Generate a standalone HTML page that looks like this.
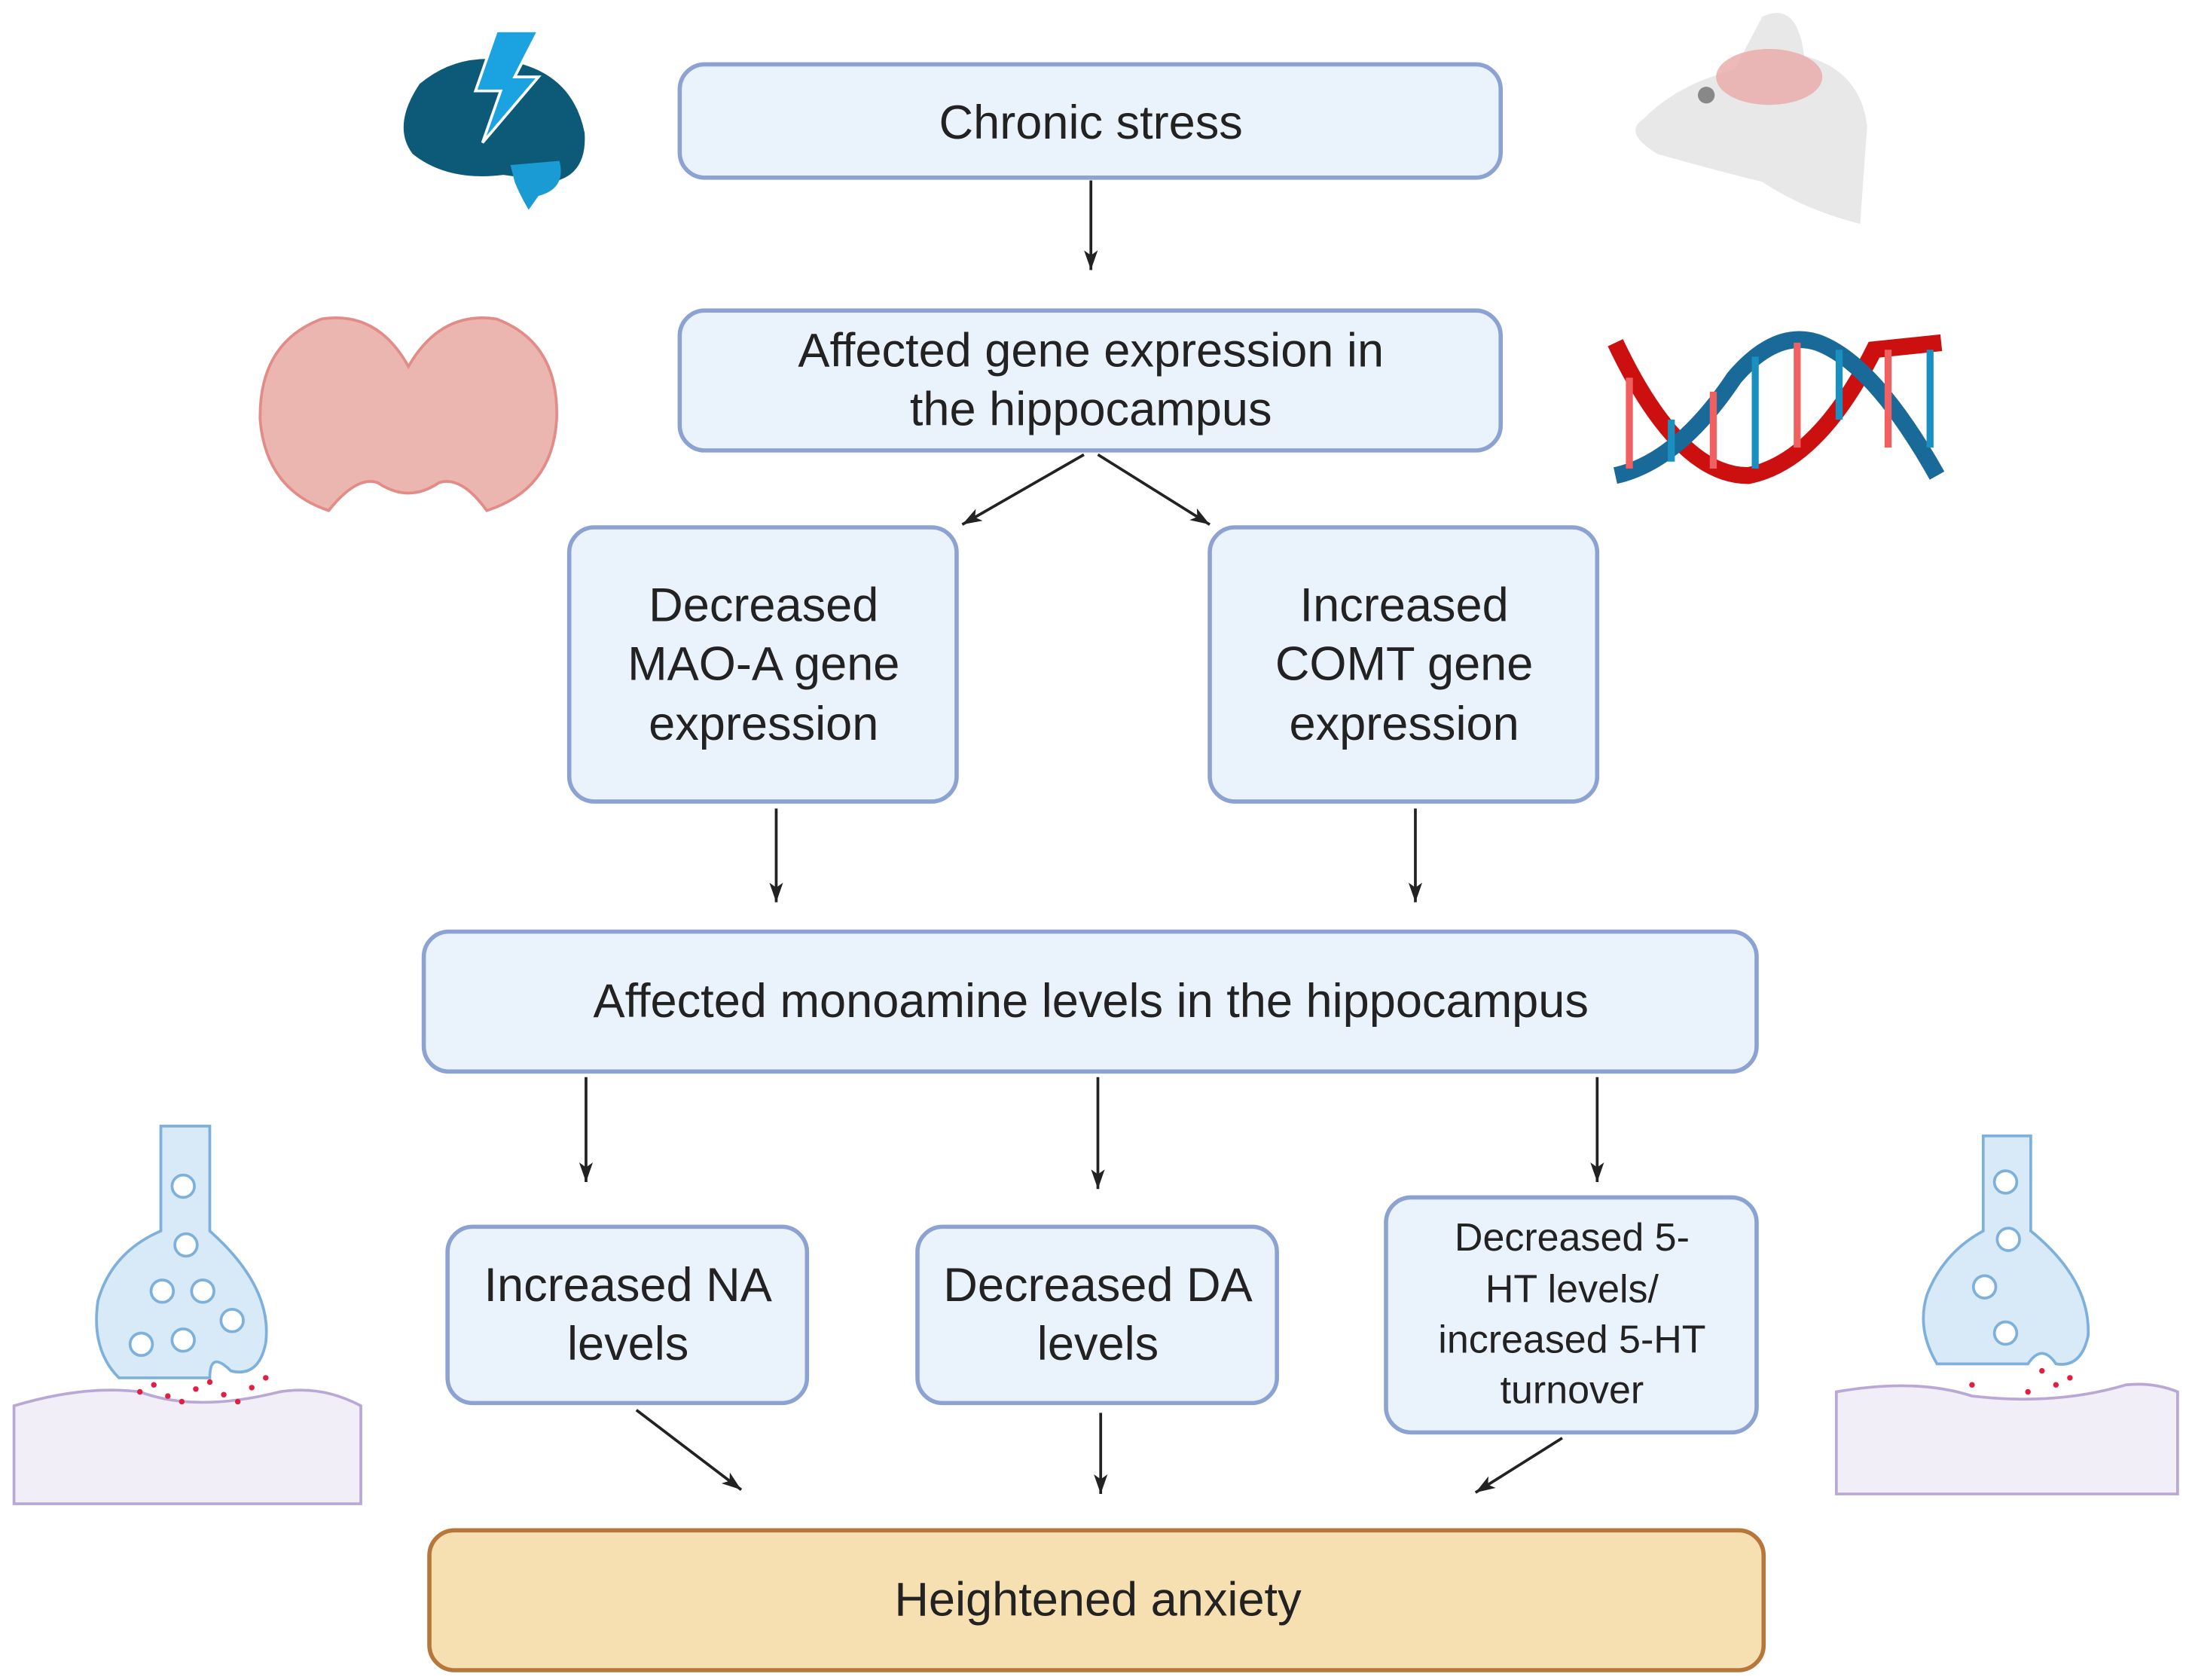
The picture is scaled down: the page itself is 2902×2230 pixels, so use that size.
<!DOCTYPE html>
<html><head><meta charset="utf-8"><style>html,body{margin:0;padding:0;background:#fff}svg{display:block}text{font-family:"Liberation Sans",sans-serif;fill:#222;text-anchor:middle}</style></head><body>
<svg width="2902" height="2230" viewBox="0 0 1563 1201" preserveAspectRatio="none" xmlns="http://www.w3.org/2000/svg">
<defs><marker id="a" markerWidth="14" markerHeight="20" refX="20" refY="7" orient="auto" markerUnits="userSpaceOnUse" viewBox="0 0 20 14"><path d="M0,0 L20,7 L0,14 L5,7z" fill="#222"/></marker></defs>
<g fill="#eaf2fb" stroke="#8ca2d2" stroke-width="3">
<rect x="486" y="46" width="587" height="81" rx="18"/>
<rect x="486" y="222" width="587" height="100" rx="18"/>
<rect x="407" y="377" width="277" height="196" rx="18"/>
<rect x="865" y="377" width="277" height="196" rx="18"/>
<rect x="303" y="666" width="953" height="100" rx="18"/>
<rect x="320" y="877" width="257" height="126" rx="18"/>
<rect x="656" y="877" width="257" height="126" rx="18"/>
<rect x="991" y="856" width="265" height="168" rx="18"/>
</g>
<rect x="307" y="1094" width="954" height="100" rx="18" fill="#f6dfb0" stroke="#b8773a" stroke-width="3"/>
<g font-size="34">
<text x="780" y="99">Chronic stress</text>
<text x="780" y="262">Affected gene expression in</text>
<text x="780" y="304">the hippocampus</text>
<text x="546" y="444">Decreased</text><text x="546" y="486">MAO-A gene</text><text x="546" y="529">expression</text>
<text x="1004" y="444">Increased</text><text x="1004" y="486">COMT gene</text><text x="1004" y="529">expression</text>
<text x="780" y="727">Affected monoamine levels in the hippocampus</text>
<text x="449" y="930">Increased NA</text><text x="449" y="972">levels</text>
<text x="785" y="930">Decreased DA</text><text x="785" y="972">levels</text>
<text x="785" y="1155">Heightened anxiety</text>
</g>
<g font-size="28">
<text x="1124" y="894">Decreased 5-</text><text x="1124" y="931">HT levels/</text><text x="1124" y="967">increased 5-HT</text><text x="1124" y="1003">turnover</text>
</g>
<g stroke="#222" stroke-width="2" marker-end="url(#a)">
<line x1="780" y1="129" x2="780" y2="193"/>
<line x1="775" y1="325" x2="688" y2="375"/>
<line x1="785" y1="325" x2="865" y2="375"/>
<line x1="555" y1="578" x2="555" y2="645"/>
<line x1="1012" y1="578" x2="1012" y2="645"/>
<line x1="419" y1="770" x2="419" y2="845"/>
<line x1="785" y1="770" x2="785" y2="850"/>
<line x1="1142" y1="770" x2="1142" y2="845"/>
<line x1="455" y1="1008" x2="530" y2="1065"/>
<line x1="787" y1="1010" x2="787" y2="1068"/>
<line x1="1117" y1="1028" x2="1055" y2="1067"/>
</g>
<path d="M300,60 Q330,35 370,45 Q410,55 418,95 Q420,125 395,130 L360,125 Q320,130 295,110 Q280,90 300,60z" fill="#0c5a78"/>
<path d="M365,118 L400,115 Q405,135 385,140 L378,150 Q372,140 368,130z" fill="#1a9bd4"/>
<path d="M355,22 L385,22 L368,55 L385,55 L345,102 L358,65 L340,65z" fill="#1aa3e0" stroke="#fff" stroke-width="2"/>
<path d="M1260,12 Q1285,0 1290,40 Q1330,50 1335,90 L1330,160 Q1290,150 1260,130 Q1220,120 1185,110 Q1160,95 1175,85 Q1200,60 1240,50z" fill="#e8e8e8"/>
<ellipse cx="1265" cy="55" rx="38" ry="20" fill="#e8a8a8" opacity=".8"/>
<circle cx="1220" cy="68" r="6" fill="#888"/>
<path d="M292,262 Q270,222 230,228 Q185,245 186,300 Q190,350 235,365 Q255,340 270,345 Q292,360 314,345 Q330,340 348,365 Q395,350 398,300 Q400,245 355,228 Q315,222 292,262z" fill="#ebb5b0" stroke="#e28c88" stroke-width="2"/>
<path d="M1155,245 Q1200,340 1250,340 Q1300,330 1340,250 L1388,245" fill="none" stroke="#cc1010" stroke-width="12"/>
<path d="M1155,340 Q1200,330 1240,270 Q1270,235 1300,245 Q1340,260 1385,340" fill="none" stroke="#1a6a99" stroke-width="12"/>
<g stroke-width="5"><line x1="1165" y1="270" x2="1165" y2="335" stroke="#f06060"/><line x1="1195" y1="300" x2="1195" y2="330" stroke="#1a90c0"/><line x1="1225" y1="280" x2="1225" y2="335" stroke="#f06060"/><line x1="1255" y1="255" x2="1255" y2="335" stroke="#1a90c0"/><line x1="1285" y1="245" x2="1285" y2="320" stroke="#f06060"/><line x1="1315" y1="250" x2="1315" y2="300" stroke="#1a90c0"/><line x1="1350" y1="250" x2="1350" y2="320" stroke="#f06060"/><line x1="1380" y1="250" x2="1380" y2="320" stroke="#1a90c0"/></g>
<path d="M10,1005 Q60,990 100,995 Q140,1010 200,995 Q230,990 258,1005 L258,1075 L10,1075z" fill="#f1eef8" stroke="#b9a8d6" stroke-width="2"/>
<path d="M115,805 L150,805 L150,880 Q195,920 190,960 Q185,985 165,980 Q150,965 150,985 L85,985 Q65,965 70,930 Q80,895 115,880z" fill="#d8eaf8" stroke="#7eb0dc" stroke-width="2"/>
<g fill="#fff" stroke="#7eb0dc" stroke-width="2"><circle cx="131" cy="848" r="8"/><circle cx="133" cy="890" r="8"/><circle cx="116" cy="923" r="8"/><circle cx="145" cy="923" r="8"/><circle cx="166" cy="944" r="8"/><circle cx="101" cy="961" r="8"/><circle cx="131" cy="958" r="8"/></g>
<g fill="#e02040"><circle cx="100" cy="995" r="2"/><circle cx="120" cy="998" r="2"/><circle cx="140" cy="993" r="2"/><circle cx="160" cy="997" r="2"/><circle cx="180" cy="992" r="2"/><circle cx="110" cy="990" r="2"/><circle cx="150" cy="988" r="2"/><circle cx="130" cy="1002" r="2"/><circle cx="170" cy="1002" r="2"/><circle cx="190" cy="985" r="2"/></g>
<path d="M1313,995 Q1370,985 1410,998 Q1470,1005 1520,990 Q1540,988 1557,995 L1557,1068 L1313,1068z" fill="#f1eef8" stroke="#b9a8d6" stroke-width="2"/>
<path d="M1418,812 L1452,812 L1452,880 Q1495,915 1493,955 Q1488,978 1470,975 Q1460,960 1450,975 L1385,975 Q1370,950 1378,925 Q1390,895 1418,880z" fill="#d8eaf8" stroke="#7eb0dc" stroke-width="2"/>
<g fill="#fff" stroke="#7eb0dc" stroke-width="2"><circle cx="1434" cy="845" r="8"/><circle cx="1436" cy="886" r="8"/><circle cx="1419" cy="920" r="8"/><circle cx="1434" cy="953" r="8"/></g>
<g fill="#e02040"><circle cx="1460" cy="980" r="2"/><circle cx="1470" cy="990" r="2"/><circle cx="1450" cy="995" r="2"/><circle cx="1480" cy="985" r="2"/><circle cx="1410" cy="990" r="2"/></g>
</svg>
</body></html>
